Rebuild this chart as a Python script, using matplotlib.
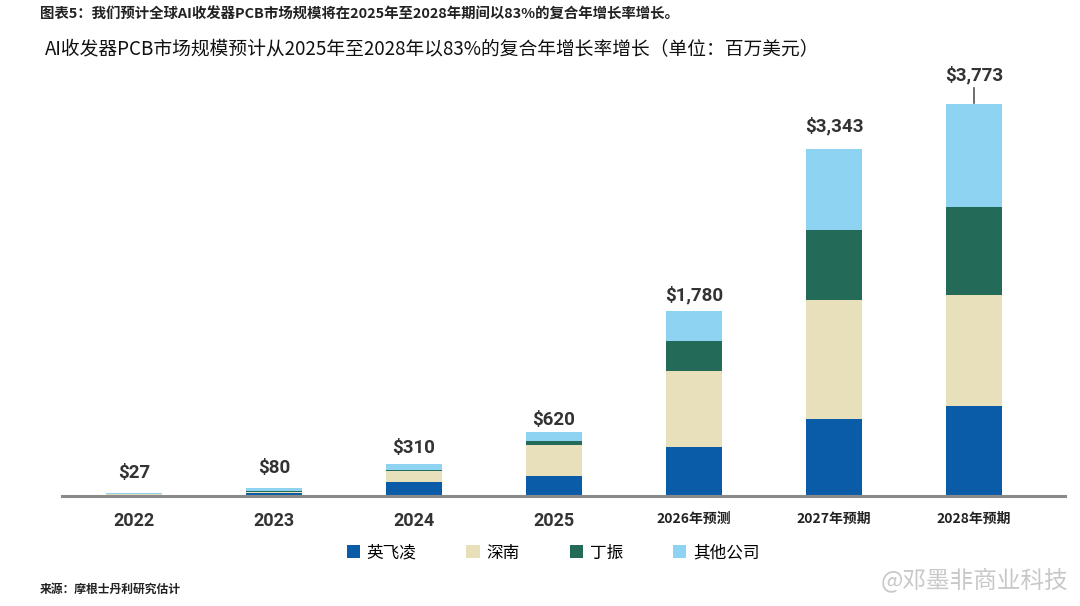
import matplotlib
matplotlib.use("Agg")
import matplotlib.pyplot as plt
import numpy as np

categories = ["2022", "2023", "2024", "2025", "2026年预测", "2027年预期", "2028年预期"]
totals = [27, 80, 310, 620, 1780, 3343, 3773]
total_labels = ["$27", "$80", "$310", "$620", "$1,780", "$3,343", "$3,773"]
infineon = [5, 30, 130, 195, 470, 744, 868]
shennan = [10, 10, 115, 300, 735, 1140, 1062]
dingzhen = [2, 5, 5, 38, 290, 676, 849]
others = [10, 35, 60, 87, 285, 783, 994]
series_names = ["英飞凌", "深南", "丁振", "其他公司"]
colors = ["#0B5CA8", "#E8DFBB", "#236B58", "#8ED3F1"]

W, H = 1080, 606
fig = plt.figure(figsize=(W / 100, H / 100), dpi=100)
fig.patch.set_facecolor("white")

left, right, bottom, top = 62, 1065, 110, 546
ax = fig.add_axes([left / W, bottom / H, (right - left) / W, (top - bottom) / H])
ymax = (top - bottom) * 3773 / 392
ax.set_ylim(0, ymax)
ax.set_xlim((62 - 134) / 140, (1065 - 134) / 140)

cjk = ["Noto Sans CJK SC", "DejaVu Sans"]
num_font = ["Roboto", "DejaVu Sans"]

x = np.arange(len(categories))
data = [infineon, shennan, dingzhen, others]
base = np.zeros(len(categories))
handles = []
for vals, c, name in zip(data, colors, series_names):
    b = ax.bar(x, vals, width=0.4, bottom=base, color=c, label=name, zorder=2)
    handles.append(b)
    base += np.array(vals)

for spine in ["top", "right", "left"]:
    ax.spines[spine].set_visible(False)
ax.spines["bottom"].set_color("#8a8a8a")
ax.spines["bottom"].set_linewidth(2.2)
ax.set_yticks([])
ax.tick_params(axis="x", length=0)
ax.set_xticks(x)
ax.set_xticklabels([])

for i, cat in enumerate(categories):
    if "年" in cat:
        ax.text(i, -0.052 * ymax, cat, ha="center", va="center", fontsize=10,
                fontweight="bold", family=cjk, color="#222222")
    else:
        ax.text(i, -0.058 * ymax, cat, ha="center", va="center", fontsize=13,
                fontweight="bold", family=num_font, color="#333333")

px = ymax / (top - bottom)
label_gap = [20, 20, 16, 12, 16, 23, 29]
for i, (t, lab) in enumerate(zip(totals, total_labels)):
    if i == 6:
        ax.plot([i, i], [t + 1 * px, t + 16 * px], color="#555555", lw=1.2)
    ax.text(i, t + label_gap[i] * px, lab, ha="center", va="center", fontsize=13.5,
            fontweight="bold", family=num_font, color="#333333")

fig.text(40 / W, 1 - 15 / H, "图表5：我们预计全球AI收发器PCB市场规模将在2025年至2028年期间以83%的复合年增长率增长。",
         ha="left", va="center", fontsize=10.4, fontweight="bold", family=cjk, color="#222222")
fig.text(45 / W, 1 - 50 / H, "AI收发器PCB市场规模预计从2025年至2028年以83%的复合年增长率增长（单位：百万美元）",
         ha="left", va="center", fontsize=13.5, family=cjk, color="#111111")

fig.legend(handles=handles, labels=series_names, loc="center",
           bbox_to_anchor=(553 / W, 1 - 553 / H), ncol=4, frameon=False,
           prop={"family": cjk, "size": 12}, handlelength=0.8, handleheight=0.8,
           handletextpad=0.4, columnspacing=3.0)

fig.text(40 / W, 1 - 589 / H, "来源：摩根士丹利研究估计", ha="left", va="center",
         fontsize=8.5, fontweight="bold", family=cjk, color="#222222")
fig.text(1068 / W, 1 - 580 / H, "@邓墨非商业科技", ha="right", va="center",
         fontsize=17, family=cjk, color="#c8c8c8")

fig.savefig("out.png", dpi=100, facecolor="white")
